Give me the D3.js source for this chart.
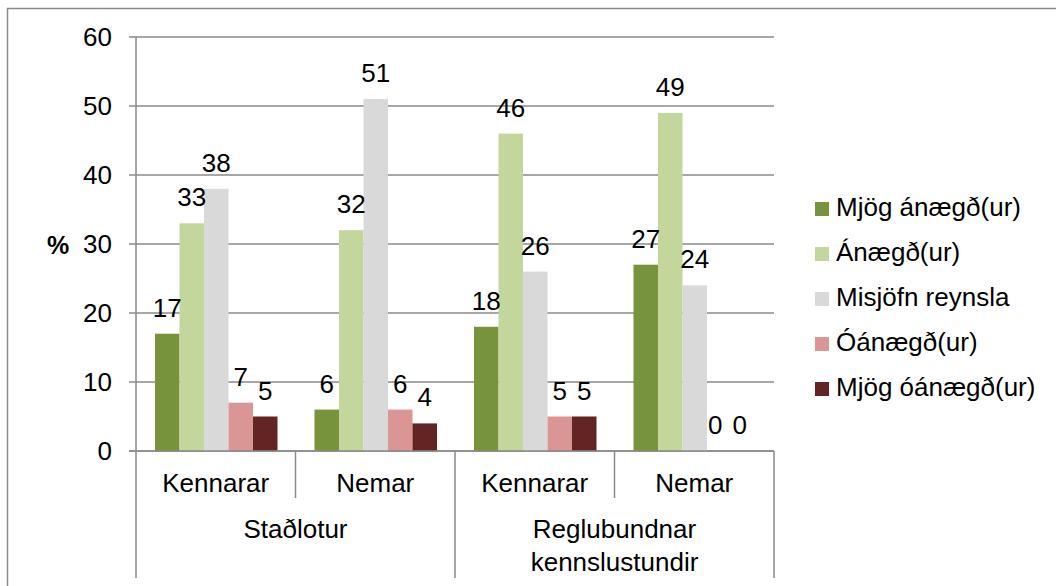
<!DOCTYPE html>
<html>
<head>
<meta charset="utf-8">
<title>Ánægja</title>
<style>
  body { margin: 0; background: #fff; }
  svg { display: block; font-family: "Liberation Sans", Arial, sans-serif; }
</style>
</head>
<body>
<svg width="1056" height="586"></svg>
<script src="https://d3js.org/d3.v7.min.js"></script>
<script>

// data
const groups = ["Staðlotur", "Reglubundnar kennslustundir"]
const subcats = ["Kennarar", "Nemar"]
const series = ["Mjög ánægð(ur)", "Ánægð(ur)", "Misjöfn reynsla", "Óánægð(ur)", "Mjög óánægð(ur)"]
const colors = ["#77933c", "#c3d69b", "#d9d9d9", "#d99694", "#632523"]
// one row per (group, subcat), values in series order
const values = [
  [17, 33, 38, 7, 5],
  [6, 32, 51, 6, 4],
  [18, 46, 26, 5, 5],
  [27, 49, 24, 0, 0]
]
const yTicks = [0, 10, 20, 30, 40, 50, 60]

const leaves = []
groups.forEach((g, gi) => subcats.forEach((s, si) => leaves.push({ key: g + "|" + s, group: g, name: s, vals: values[gi * subcats.length + si] })))

const svg = d3.select("svg")
const fontSize = 26
const gridColor = "#8a8a8a"

// outer frame
svg.append("rect")
  .attr("x", 7.5).attr("y", 8.5)
  .attr("width", 1100).attr("height", 700)
  .attr("fill", "none").attr("stroke", gridColor).attr("stroke-width", 1.5)

const plot = { left: 136, right: 774, top: 37, bottom: 451 }

const y = d3.scaleLinear().domain([0, 60]).range([plot.bottom, plot.top])
const x = d3.scaleBand().domain(leaves.map(d => d.key)).range([plot.left, plot.right])
const xs = d3.scaleBand().domain(series).range([19, x.bandwidth() - 18])

// gridlines + ticks
svg.append("g")
  .selectAll("line")
  .data(yTicks)
  .join("line")
    .attr("x1", plot.left - 7).attr("x2", plot.right)
    .attr("y1", d => y(d)).attr("y2", d => y(d))
    .attr("stroke", gridColor).attr("stroke-width", 1.5)

svg.append("g")
    .attr("font-size", fontSize).attr("text-anchor", "end")
  .selectAll("text")
  .data(yTicks)
  .join("text")
    .attr("x", 112).attr("y", d => y(d) + 9)
    .text(d => d)

svg.append("text")
  .attr("x", 58).attr("y", 254)
  .attr("text-anchor", "middle").attr("font-size", 25).attr("font-weight", "bold")
  .text("%")

// bars
const cat = svg.append("g")
  .selectAll("g")
  .data(leaves)
  .join("g")
    .attr("transform", d => `translate(${x(d.key)},0)`)

cat.selectAll("rect")
  .data(d => d.vals.map((v, i) => ({ s: series[i], v, c: colors[i] })))
  .join("rect")
    .attr("x", d => xs(d.s))
    .attr("width", xs.bandwidth())
    .attr("y", d => y(d.v))
    .attr("height", d => y(0) - y(d.v))
    .attr("fill", d => d.c)

cat.selectAll("text")
  .data(d => d.vals.map((v, i) => ({ s: series[i], v })))
  .join("text")
    .attr("x", d => xs(d.s) + xs.bandwidth() / 2 - (d.v === 0 ? 4 : 0))
    .attr("y", d => y(d.v) - 17)
    .attr("text-anchor", "middle")
    .attr("font-size", fontSize)
    .text(d => d.v)

// axis line and separators
svg.append("line")
  .attr("x1", plot.left - 7).attr("x2", plot.right)
  .attr("y1", plot.bottom).attr("y2", plot.bottom)
  .attr("stroke", gridColor).attr("stroke-width", 1.5)
svg.append("line")
  .attr("x1", plot.left).attr("x2", plot.left)
  .attr("y1", plot.top).attr("y2", 578)
  .attr("stroke", gridColor).attr("stroke-width", 1.5)

leaves.forEach((d, i) => {
  const xe = x(d.key) + x.bandwidth()
  const outer = (i + 1) % subcats.length === 0
  svg.append("line")
    .attr("x1", xe).attr("x2", xe)
    .attr("y1", plot.bottom).attr("y2", outer ? 578 : 498)
    .attr("stroke", gridColor).attr("stroke-width", 1.5)
  svg.append("text")
    .attr("x", x(d.key) + x.bandwidth() / 2).attr("y", 492)
    .attr("text-anchor", "middle").attr("font-size", fontSize)
    .text(d.name)
})

groups.forEach((g, gi) => {
  const x0 = x(g + "|" + subcats[0])
  const x1 = x(g + "|" + subcats[subcats.length - 1]) + x.bandwidth()
  const words = g === "Reglubundnar kennslustundir" ? g.split(" ") : [g]
  const t = svg.append("text")
    .attr("text-anchor", "middle").attr("font-size", fontSize)
  words.forEach((w, wi) => t.append("tspan").attr("x", (x0 + x1) / 2).attr("y", 538 + wi * 33).text(w))
})

// legend
const legend = svg.append("g")
  .selectAll("g")
  .data(series)
  .join("g")
    .attr("transform", (d, i) => `translate(815,${202 + i * 45})`)
legend.append("rect")
  .attr("width", 14).attr("height", 14)
  .attr("fill", (d, i) => colors[i])
legend.append("text")
  .attr("x", 21).attr("y", 14)
  .attr("font-size", fontSize)
  .text(d => d)

</script>
</body>
</html>
